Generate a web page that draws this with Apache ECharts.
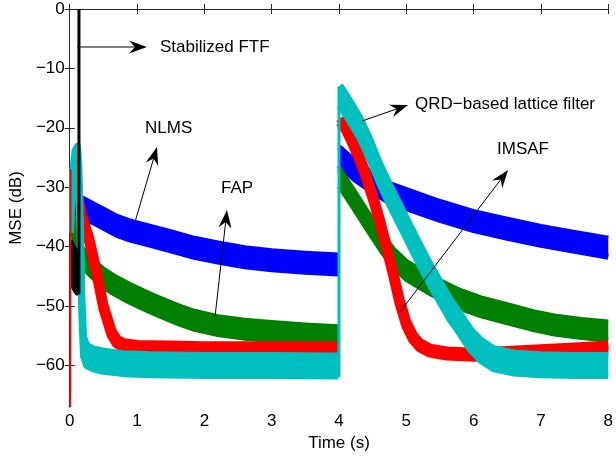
<!DOCTYPE html>
<html>
<head>
<meta charset="utf-8">
<script src="https://cdn.jsdelivr.net/npm/echarts@6/dist/echarts.min.js"></script>
<style>
  html, body { margin: 0; padding: 0; background: #fff; }
  #chart { width: 616px; height: 457px; }
</style>
</head>
<body>
<div id="chart"></div>
<script>
// x ticks (s) and y ticks (dB)
const xTicks = [0, 1, 2, 3, 4, 5, 6, 7, 8];
const yTicks = [-60, -50, -40, -30, -20, -10, 0];

// NLMS (blue), centre of the noisy band
const nlmsT1 = [0.04, 0.1, 0.2, 0.35, 0.5, 0.7, 0.9, 1.2, 1.5, 1.85, 2.2, 2.6, 3.0, 3.5, 3.99];
const nlmsDb1 = [-32.5, -33.0, -33.5, -34.4, -35.3, -36.5, -37.3, -38.2, -39.1, -40.2, -41.0, -41.8, -42.3, -42.7, -43.0];
const nlmsT2 = [4.0, 4.1, 4.25, 4.5, 4.75, 5.0, 5.5, 6.0, 6.5, 7.0, 7.5, 8.0];
const nlmsDb2 = [-24.8, -25.8, -27.3, -29.3, -31.0, -32.0, -34.0, -35.7, -37.0, -38.2, -39.2, -40.2];

// FAP (green)
const fapT1 = [0.02, 0.06, 0.1, 0.15, 0.22, 0.3, 0.4, 0.5, 0.65, 0.88, 1.1, 1.3, 1.6, 1.85, 2.2, 2.6, 3.0, 3.5, 3.99];
const fapDb1 = [-34.0, -37.0, -39.5, -41.2, -42.3, -43.2, -44.3, -45.3, -46.4, -47.8, -49.0, -50.0, -51.4, -52.4, -53.3, -53.9, -54.3, -54.7, -55.0];
const fapT2 = [4.0, 4.1, 4.2, 4.34, 4.5, 4.65, 4.83, 5.0, 5.32, 5.6, 5.8, 6.1, 6.5, 6.9, 7.2, 7.6, 8.0];
const fapDb2 = [-28.3, -30.0, -31.7, -34.2, -37.0, -39.6, -42.2, -44.0, -46.2, -47.8, -48.9, -50.1, -51.3, -52.5, -53.2, -53.8, -54.2];

// IMSAF (red)
const imsafT1 = [0.01, 0.04, 0.08, 0.12, 0.18, 0.29, 0.40, 0.50, 0.62, 0.70, 0.8, 1.0, 1.5, 2.0, 2.5, 3.0, 3.5, 3.99];
const imsafDb1 = [-27.0, -27.5, -29.5, -31.5, -35.0, -38.9, -44.4, -50.1, -54.5, -56.0, -56.6, -56.9, -57.0, -57.1, -57.1, -57.1, -57.1, -57.1];
const imsafT2 = [4.02, 4.1, 4.2, 4.3, 4.4, 4.5, 4.6, 4.7, 4.8, 4.9, 5.0, 5.1, 5.2, 5.35, 5.6, 6.0, 6.5, 7.0, 7.5, 8.0];
const imsafDb2 = [-18.7, -20.0, -22.3, -25.0, -28.0, -31.6, -35.5, -39.8, -44.3, -49.2, -53.0, -55.3, -56.6, -57.5, -58.0, -58.2, -57.9, -57.6, -57.3, -57.0];

// QRD-based lattice filter (cyan)
const qrdT1 = [0.01, 0.04, 0.08, 0.115, 0.135, 0.16, 0.18, 0.205, 0.25, 0.35, 0.5, 0.8, 1.2, 2.0, 3.0, 3.99];
const qrdDb1 = [-36.0, -29.5, -25.5, -24.8, -28.0, -39.0, -50.0, -56.8, -58.3, -58.9, -59.3, -59.7, -59.9, -60.0, -60.0, -60.1];
const qrdT2 = [4.01, 4.05, 4.15, 4.3, 4.45, 4.6, 4.75, 4.9, 5.05, 5.2, 5.35, 5.5, 5.65, 5.8, 5.95, 6.1, 6.3, 6.6, 7.0, 7.5, 8.0];
const qrdDb2 = [-14.6, -15.2, -17.0, -19.8, -23.4, -27.6, -31.2, -34.6, -38.0, -41.4, -44.6, -47.6, -50.6, -53.0, -55.6, -57.4, -58.9, -59.6, -59.9, -60.0, -60.0];

// Stabilized FTF (black): noisy start, then divergence
const ftfT = [0.01, 0.04, 0.07, 0.1, 0.125];
const ftfDb = [-42.5, -43.0, -43.8, -44.3, -44.5];
const ftfSpikeT = [0.128, 0.137, 0.137];
const ftfSpikeDb = [-47.5, -48.0, 0];

// vertical jumps (start and the change at t = 4 s)
const imsafJump0 = [[0.008, -67], [0.012, -27]];
const nlmsJump4 = [[4.0, -43.0], [4.0, -24.8]];
const fapJump4 = [[4.0, -55.0], [4.0, -28.3]];
const imsafJump4 = [[4.0, -57.1], [4.0, -18.7]];
const qrdJump4 = [[4.0, -62.0], [4.0, -13.5]];

const BLUE = '#0000ff', GREEN = '#008000', RED = '#ff0000', CYAN = '#00bfbf', BLACK = '#000000';
const FONT = "'Liberation Sans', Arial, sans-serif";

const series = [];

// noisy curve drawn as a band of fixed vertical thickness around its centre
function band(ts, dbs, halfPx, edge, color) {
  series.push({
    type: 'custom', silent: true, clip: true,
    data: ts.map((t, i) => [t, dbs[i]]),
    encode: { x: 0, y: 1 },
    renderItem: function (params, api) {
      if (params.dataIndex !== 0) return null;
      const pts = ts.map((t, i) => api.coord([t, dbs[i]]));
      const upper = pts.map(p => [p[0], p[1] - halfPx]);
      const lower = pts.map(p => [p[0], p[1] + halfPx]);
      const edgeStyle = { fill: null, stroke: color, lineWidth: edge, lineJoin: 'round', lineCap: 'butt' };
      return {
        type: 'group',
        children: [
          { type: 'polygon', shape: { points: upper.concat(lower.slice().reverse()) },
            style: { fill: color } },
          { type: 'polyline', shape: { points: upper }, style: edgeStyle },
          { type: 'polyline', shape: { points: lower }, style: edgeStyle }
        ]
      };
    }
  });
}

function thin(points, width, color) {
  series.push({
    type: 'line', symbol: 'none', silent: true, data: points,
    lineStyle: { color: color, width: width }
  });
}

band(nlmsT1, nlmsDb1, 9, 6, BLUE);
band(nlmsT2, nlmsDb2, 9, 6, BLUE);
thin(nlmsJump4, 2, BLUE);

band(fapT1, fapDb1, 9, 5, GREEN);
band(fapT2, fapDb2, 9, 5, GREEN);
thin(fapJump4, 2, GREEN);

thin(imsafJump0, 2, RED);
band(imsafT1, imsafDb1, 2, 10, RED);
band(imsafT2, imsafDb2, 2, 10, RED);
thin(imsafJump4, 2, RED);

band(qrdT1, qrdDb1, 10, 7, CYAN);
band(qrdT2, qrdDb2, 10, 7, CYAN);
thin(qrdJump4, 3, CYAN);

band(ftfT, ftfDb, 21, 4, BLACK);
thin(ftfSpikeT.map((t, i) => [t, ftfSpikeDb[i]]), 3, BLACK);

// annotations (pixel layout)
function arrow(x1, y1, x2, y2) {
  const dx = x2 - x1, dy = y2 - y1, len = Math.hypot(dx, dy);
  const ux = dx / len, uy = dy / len, nx = -uy, ny = ux;
  const L = 18, W = 6.5, N = 12;
  return [
    { type: 'line', silent: true, z: 100, shape: { x1: x1, y1: y1, x2: x2 - ux * N, y2: y2 - uy * N },
      style: { stroke: '#000', lineWidth: 1 } },
    { type: 'polygon', silent: true, z: 100, shape: { points: [
        [x2, y2],
        [x2 - ux * L + nx * W, y2 - uy * L + ny * W],
        [x2 - ux * N, y2 - uy * N],
        [x2 - ux * L - nx * W, y2 - uy * L - ny * W]
      ] }, style: { fill: '#000' } }
  ];
}
function label(text, x, y) {
  return { type: 'text', silent: true, z: 100, x: x, y: y,
    style: { text: text, fill: '#000', font: '17px ' + FONT, verticalAlign: 'middle', align: 'left' } };
}

const graphics = [].concat(
  arrow(77, 47, 147, 47), [label('Stabilized FTF', 160, 47)],
  arrow(135, 222, 157, 147), [label('NLMS', 145, 128)],
  arrow(215, 317, 227, 210), [label('FAP', 221, 188)],
  arrow(362, 121, 408, 105), [label('QRD\u2212based lattice filter', 415, 104)],
  arrow(400, 312, 508, 170), [label('IMSAF', 497, 149)]
);

const axisColor = '#262626';
const minus = v => (v < 0 ? '\u2212' + Math.abs(v) : String(v));

const option = {
  animation: false,
  backgroundColor: '#fff',
  grid: { left: 66, right: 4, top: 9, bottom: 50 },
  xAxis: [
    {
      type: 'value', min: 0, max: 8, interval: 1, position: 'bottom',
      name: 'Time (s)', nameLocation: 'middle', nameGap: 26,
      nameTextStyle: { fontFamily: FONT, fontSize: 17, color: '#000' },
      axisLine: { show: true, lineStyle: { color: axisColor, width: 1 } },
      axisTick: { inside: true, length: 5, lineStyle: { color: axisColor } },
      axisLabel: { fontFamily: FONT, fontSize: 17, color: '#000', margin: 6,
        showMaxLabel: true, showMinLabel: true, formatter: v => (xTicks.includes(v) ? String(v) : '') },
      splitLine: { show: false }
    },
    {
      type: 'value', min: 0, max: 8, interval: 1, position: 'top',
      axisLine: { show: true, lineStyle: { color: axisColor, width: 1 } },
      axisTick: { inside: true, length: 5, lineStyle: { color: axisColor } },
      axisLabel: { show: false }, splitLine: { show: false }
    }
  ],
  yAxis: [
    {
      type: 'value', min: -67, max: 0, position: 'left',
      name: 'MSE (dB)', nameLocation: 'middle', nameGap: 42,
      nameTextStyle: { fontFamily: FONT, fontSize: 17, color: '#000' },
      axisLine: { show: true, lineStyle: { color: axisColor, width: 1 } },
      axisTick: { inside: true, length: 5, customValues: yTicks, lineStyle: { color: axisColor } },
      axisLabel: { fontFamily: FONT, fontSize: 17, color: '#000', margin: 5,
        customValues: yTicks, formatter: minus },
      splitLine: { show: false }
    },
    {
      type: 'value', min: -67, max: 0, position: 'right',
      axisLine: { show: true, lineStyle: { color: axisColor, width: 1 } },
      axisTick: { inside: true, length: 5, customValues: yTicks, lineStyle: { color: axisColor } },
      axisLabel: { show: false }, splitLine: { show: false }
    }
  ],
  series: series,
  graphic: { elements: graphics }
};

const chart = echarts.init(document.getElementById('chart'), null, { renderer: 'canvas' });
chart.setOption(option);
</script>
</body>
</html>
